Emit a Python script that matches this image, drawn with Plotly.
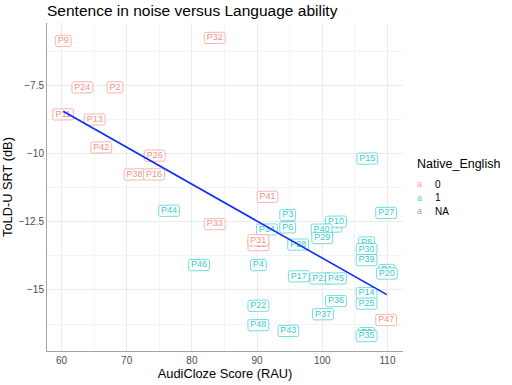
import numpy as np
import plotly.graph_objects as go

# ---------------- data ----------------
labels = ["P7", "P19", "P8", "P21", "P5", "P1",
          "P9", "P32", "P24", "P2", "P11", "P13", "P42", "P26", "P38", "P16",
          "P44", "P33", "P46", "P15", "P41", "P27", "P3", "P6", "P10", "P34",
          "P40", "P29", "P28", "P31", "P30", "P39", "P4", "P20", "P17", "P45",
          "P14", "P25", "P36", "P22", "P37", "P47", "P48", "P43", "P35"]
score = [101.8, 90.2, 106.8, 99.7, 106.8, 109.9,
         60.26, 83.5, 63.2, 68.2, 60.26, 65.1, 66.1, 74.3, 71.2, 74.2,
         76.5, 83.5, 81.1, 106.9, 91.6, 109.8, 94.7, 94.7, 102.1, 91.5,
         99.9, 100.0, 96.3, 90.2, 106.8, 106.8, 90.2, 109.9, 96.4, 102.1,
         106.8, 106.8, 102.1, 90.2, 100.1, 109.8, 90.2, 94.8, 106.8]
srt = [-12.68, -13.36, -13.26, -14.58, -16.58, -14.27,
       -5.88, -5.77, -7.58, -7.58, -8.57, -8.76, -9.78, -10.08, -10.77, -10.77,
       -12.10, -12.59, -14.09, -10.19, -11.59, -12.18, -12.26, -12.71, -12.50, -12.79,
       -12.79, -13.10, -13.34, -13.18, -13.51, -13.91, -14.09, -14.40, -14.50, -14.58,
       -15.12, -15.50, -15.41, -15.58, -15.89, -16.10, -16.29, -16.50, -16.69]
native = ["1", "0", "1", "1", "1", "1",
          "0", "0", "0", "0", "0", "0", "0", "0", "0", "0",
          "1", "0", "1", "1", "0", "1", "1", "1", "1", "1",
          "1", "1", "1", "0", "1", "1", "1", "1", "1", "1",
          "1", "1", "1", "1", "1", "0", "1", "1", "1"]

legend_levels = ["0", "1", "NA"]
level_colors = {"0": (248, 118, 109), "1": (0, 191, 196), "NA": (127, 127, 127)}

title_text = "Sentence in noise versus Language ability"
x_title = "AudiCloze Score (RAU)"
y_title = "ToLD-U SRT (dB)"
legend_title = "Native_English"

# ---------------- layout constants ----------------
W, H = 512, 385
ML, MR, MT, MB = 47, 109, 23, 34
PW, PH = W - ML - MR, H - MT - MB
FONT = "Liberation Sans, Arial, sans-serif"
LABEL_FS = 9

def rgba(c, a):
    return "rgba(%d,%d,%d,%.3f)" % (c[0], c[1], c[2], a)

# ggplot-like 5% expansion
xs = np.array(score); ys = np.array(srt)
xpad = 0.05 * (xs.max() - xs.min()); ypad = 0.05 * (ys.max() - ys.min())
xr = [xs.min() - xpad, xs.max() + xpad]
yr = [ys.min() - ypad, ys.max() + ypad]
px_x = PW / (xr[1] - xr[0])
px_y = PH / (yr[1] - yr[0])

char_em = {"P": 0.667}
def text_width(s, fs):
    return sum(char_em.get(ch, 0.556) for ch in s) * fs

def rounded_box(cx, cy, hw, hh, r, n=4):
    pts = []
    corners = [(hw - r, hh - r, 0), (-hw + r, hh - r, 90), (-hw + r, -hh + r, 180), (hw - r, -hh + r, 270)]
    for ox, oy, a0 in corners:
        for t in np.linspace(np.radians(a0), np.radians(a0 + 90), n):
            pts.append((ox + r * np.cos(t), oy + r * np.sin(t)))
    pts.append(pts[0])
    bx = [cx + p[0] / px_x for p in pts]
    by = [cy + p[1] / px_y for p in pts]
    return bx, by

fig = go.Figure()

for lab, x, y, g in zip(labels, score, srt, native):
    col = level_colors[g]
    hw = text_width(lab, LABEL_FS) / 2 + 2.4
    bx, by = rounded_box(x, y, hw, 5.7, 1.8)
    fig.add_trace(go.Scatter(x=bx, y=by, mode="lines", fill="toself",
                             fillcolor="white", line=dict(color=rgba(col, 0.55), width=1),
                             hoverinfo="skip", showlegend=False))
    fig.add_trace(go.Scatter(x=[x], y=[y], mode="text", text=[lab],
                             textposition="middle center",
                             textfont=dict(size=LABEL_FS, color=rgba(col, 0.85), family=FONT),
                             hoverinfo="skip", showlegend=False))

# linear fit (geom_smooth(method = "lm", se = FALSE))
slope, intercept = np.polyfit(xs, ys, 1)
lx = np.array([xs.min(), xs.max()])
fig.add_trace(go.Scatter(x=lx, y=intercept + slope * lx, mode="lines",
                         line=dict(color="#0A2BFF", width=1.6),
                         hoverinfo="skip", showlegend=False))

def paper_x(px):
    return (px - ML) / PW

def paper_y(py):
    return (H - MB - py) / PH

annotations = [dict(text=legend_title, x=paper_x(415), y=paper_y(164), xref="paper", yref="paper",
                    xanchor="left", yanchor="middle", showarrow=False,
                    font=dict(size=12.5, color="black", family=FONT))]
for i, lev in enumerate(legend_levels):
    yy = 184 + i * 13.5
    annotations.append(dict(text="a", x=paper_x(419), y=paper_y(yy), xref="paper", yref="paper",
                            xanchor="center", yanchor="middle", showarrow=False,
                            font=dict(size=9, color=rgba(level_colors[lev], 0.75), family=FONT)))
    annotations.append(dict(text=lev, x=paper_x(433), y=paper_y(yy), xref="paper", yref="paper",
                            xanchor="left", yanchor="middle", showarrow=False,
                            font=dict(size=10, color="black", family=FONT)))

axis_common = dict(showgrid=True, gridcolor="#EBEBEB", gridwidth=1, zeroline=False,
                   showline=True, linecolor="#A6A6A6", linewidth=1, ticks="",
                   automargin=False,
                   tickfont=dict(size=10, color="#4D4D4D", family=FONT))

fig.update_layout(
    width=W, height=H,
    margin=dict(l=ML, r=MR, t=MT, b=MB, pad=0),
    paper_bgcolor="white", plot_bgcolor="white",
    font=dict(family=FONT, color="black"),
    title=dict(text=title_text, x=ML / W, xanchor="left", xref="container",
               y=1 - 11 / H, yanchor="middle", yref="container",
               font=dict(size=15.5, color="black", family=FONT)),
    xaxis=dict(range=xr, dtick=10, tick0=60,
               minor=dict(dtick=5, showgrid=True, gridcolor="#F4F4F4", gridwidth=1),
               title=dict(text=x_title, font=dict(size=12.8, color="black"), standoff=2),
               **axis_common),
    yaxis=dict(range=yr, dtick=2.5, tick0=-7.5,
               minor=dict(dtick=1.25, showgrid=True, gridcolor="#F4F4F4", gridwidth=1),
               title=dict(text=y_title, font=dict(size=12.8, color="black"), standoff=4),
               **axis_common),
    annotations=annotations,
    showlegend=False,
)

fig.write_html("out.html", config={"displayModeBar": False},
               post_script="document.body.style.margin='0';document.body.style.overflow='hidden';")
